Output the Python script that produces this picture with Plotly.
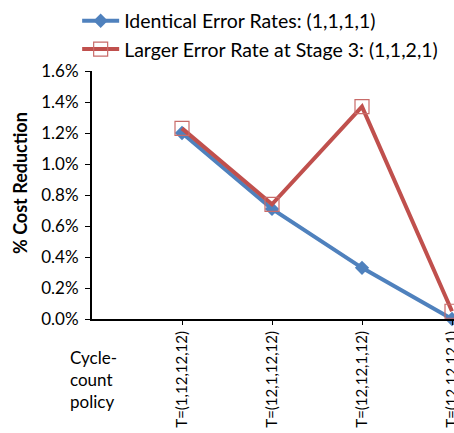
import plotly.graph_objects as go

categories = ["", "T=(1,12,12,12)", "T=(12,1,12,12)", "T=(12,12,1,12)", "T=(12,12,12,1)"]
identical = [None, 1.20, 0.71, 0.33, 0.0]
larger_stage3 = [None, 1.23, 0.74, 1.37, 0.05]
y_ticks = [0.0, 0.2, 0.4, 0.6, 0.8, 1.0, 1.2, 1.4, 1.6]

FONT = "Lato"
BLUE = "#4F81BD"
RED = "#C0504D"

xs = list(range(len(categories)))

fig = go.Figure()
fig.add_trace(go.Scatter(
    x=xs, y=identical, mode="lines+markers",
    name="Identical Error Rates: (1,1,1,1)",
    line=dict(color=BLUE, width=4),
    marker=dict(symbol="diamond", size=11, color=BLUE),
    cliponaxis=False,
))
fig.add_trace(go.Scatter(
    x=xs, y=larger_stage3, mode="lines+markers",
    name="Larger Error Rate at Stage 3: (1,1,2,1)",
    line=dict(color=RED, width=4),
    marker=dict(symbol="square-open", size=14, color="#C86B69", line=dict(width=1.2)),
    cliponaxis=False,
))

fig.add_annotation(
    text="Cycle-<br>count<br>policy", xref="paper", yref="paper",
    x=-0.065, y=-0.105, xanchor="left", yanchor="top", align="left",
    showarrow=False, font=dict(family=FONT, size=17, color="black"),
)
fig.add_annotation(
    text="<b>% Cost Reduction</b>", xref="paper", yref="paper",
    x=(20 - 92) / 362, y=(319 - 183) / 248, xanchor="center", yanchor="middle",
    textangle=-90, showarrow=False, font=dict(family=FONT, size=18, color="black"),
)

fig.update_layout(
    width=454, height=433,
    margin=dict(l=92, r=0, t=71, b=114, autoexpand=False),
    paper_bgcolor="white", plot_bgcolor="white",
    font=dict(family=FONT, color="black"),
    showlegend=True,
    legend=dict(
        x=-0.041, y=1.28, xanchor="left", yanchor="top",
        font=dict(family=FONT, size=19.5, color="black"),
        bgcolor="rgba(0,0,0,0)", tracegroupgap=0,
        itemwidth=37,
    ),
    xaxis=dict(
        range=[0, 362 / 90], tickmode="array", tickvals=xs[1:], ticktext=categories[1:],
        tickangle=-90, showline=True, linecolor="black", linewidth=2,
        ticks="outside", ticklen=4, tickcolor="black", showgrid=False, zeroline=False,
        tickfont=dict(family=FONT, size=15, color="black"),
        ticklabeloverflow="allow", ticklabelstandoff=0,
    ),
    yaxis=dict(
        range=[0, 1.6], tickmode="array", tickvals=y_ticks,
        ticktext=[f"{v:.1f}%" for v in y_ticks],
        showline=True, linecolor="black", linewidth=2,
        ticks="outside", ticklen=5, tickcolor="black", showgrid=False, zeroline=False,
        tickfont=dict(family=FONT, size=17, color="black"),
        ticklabelstandoff=3,
    ),
)

fig.write_html("out.html")
